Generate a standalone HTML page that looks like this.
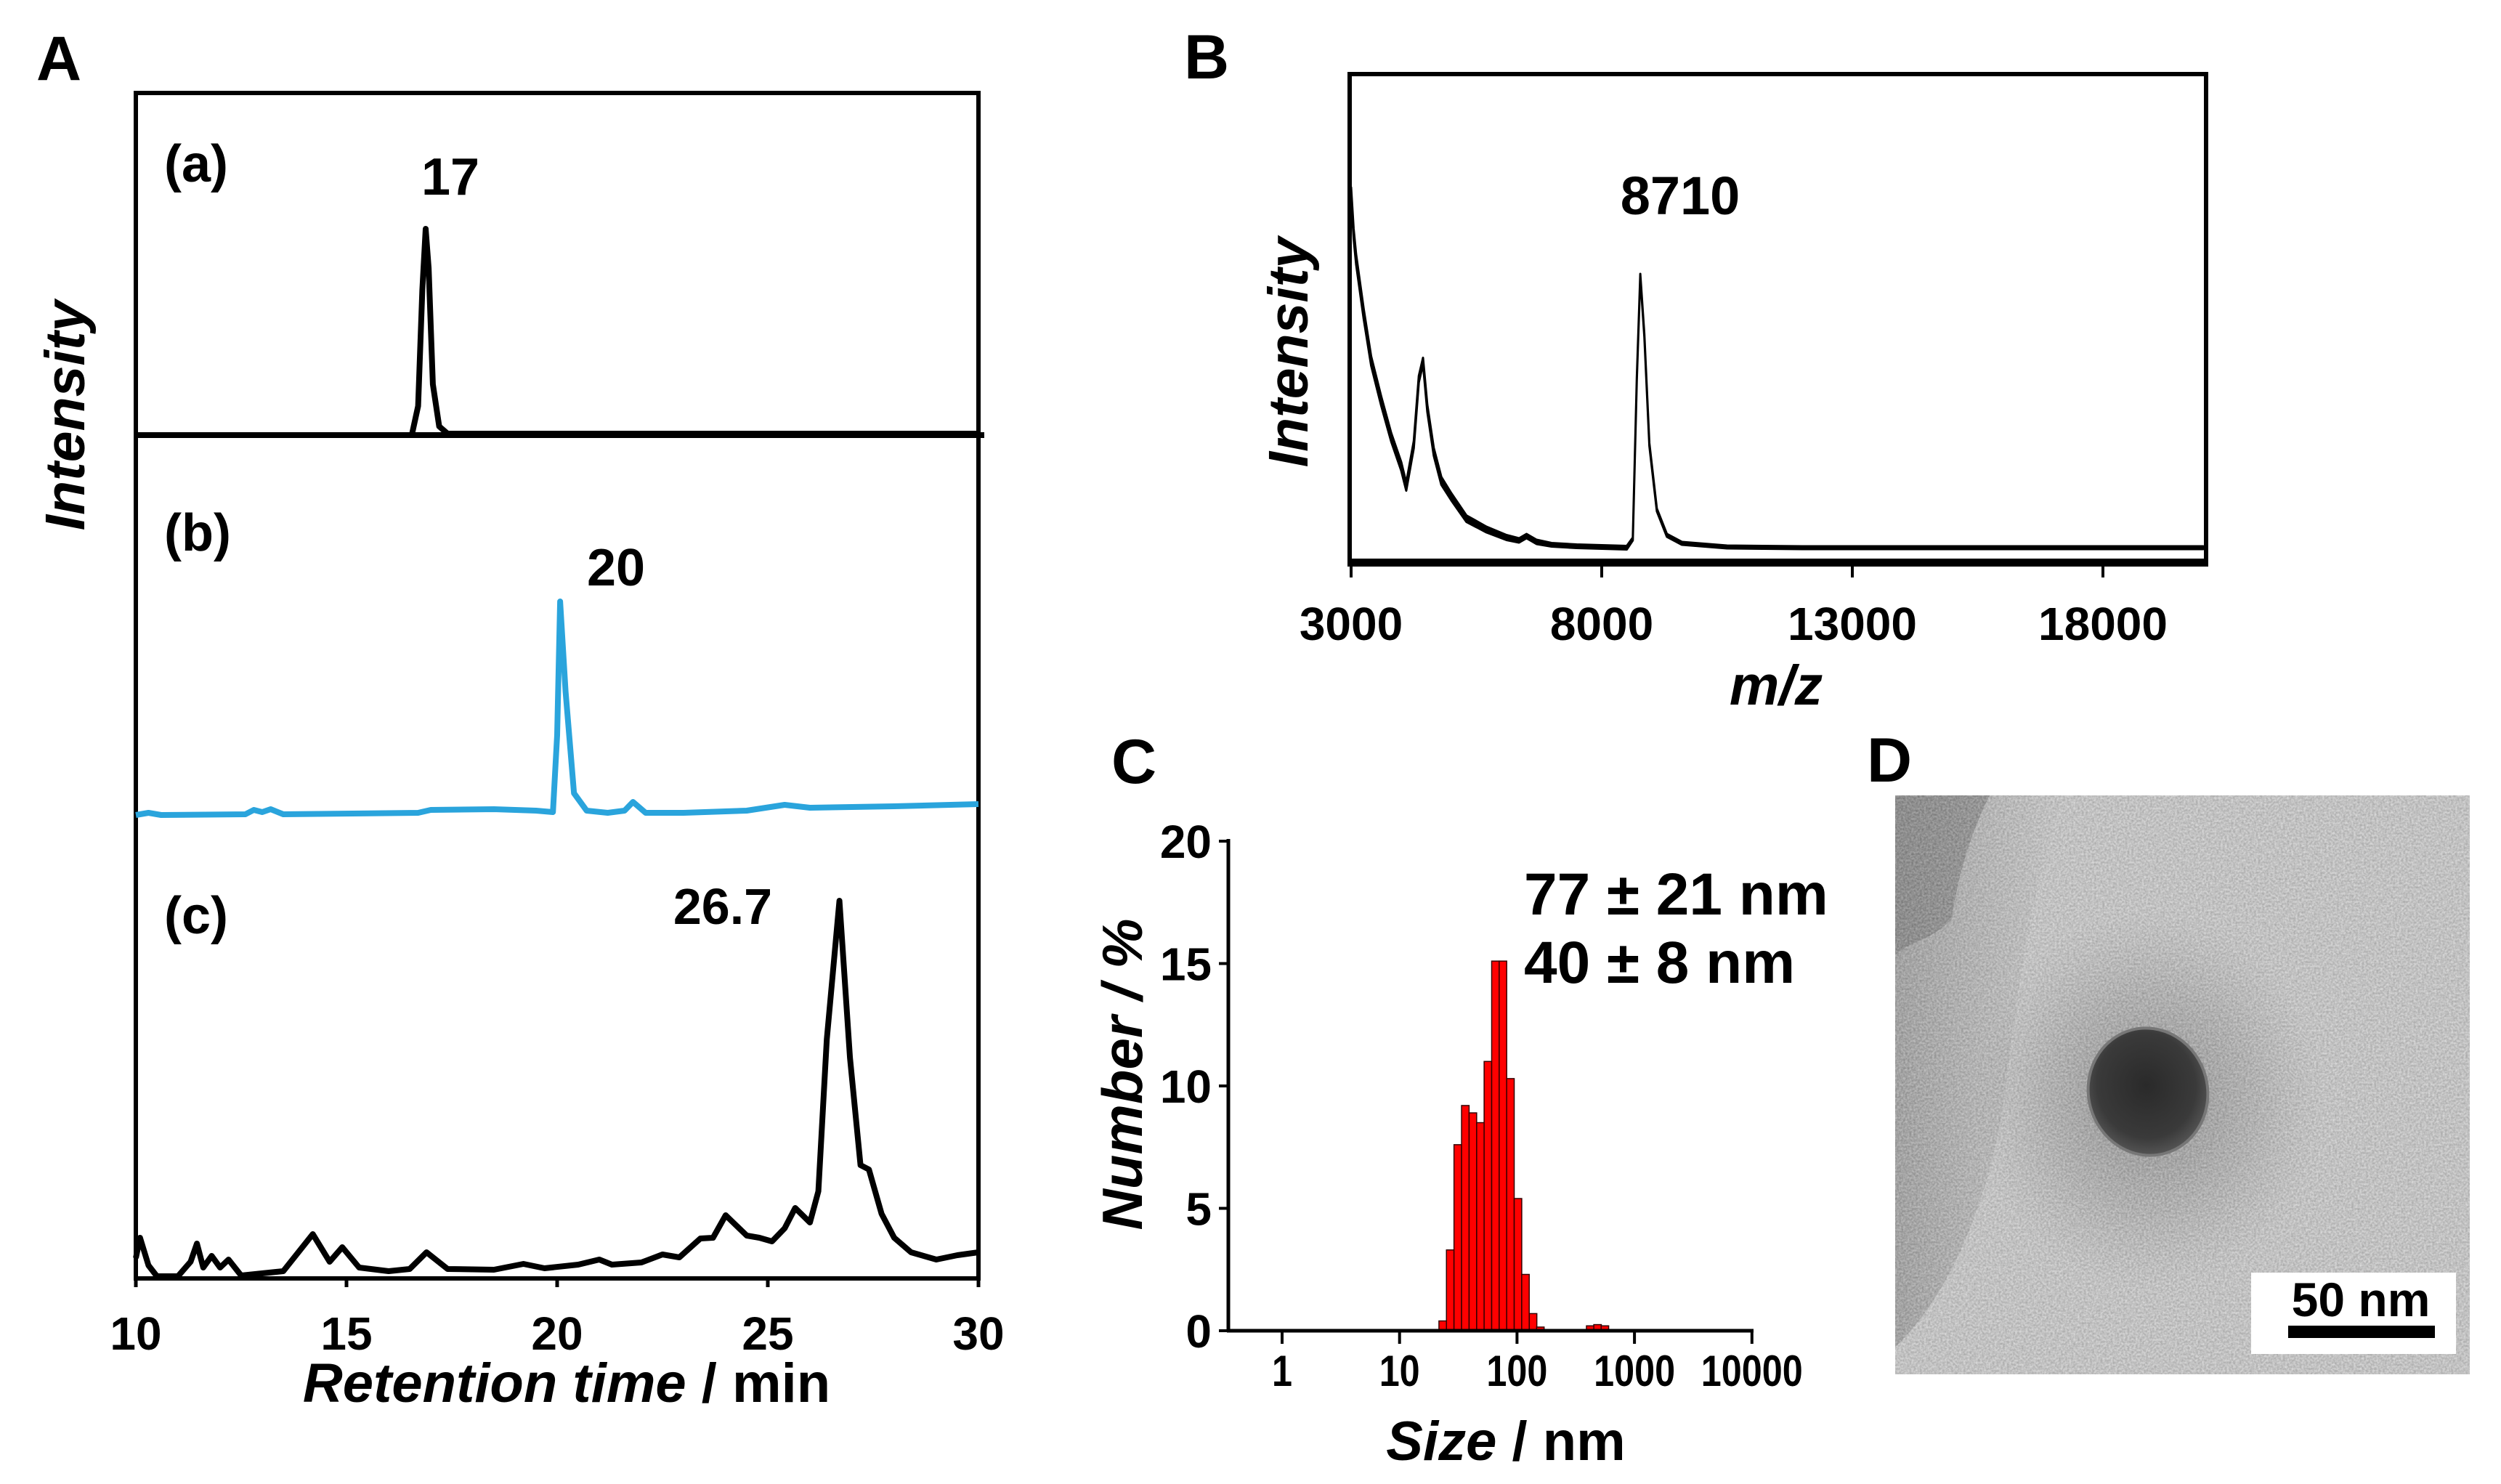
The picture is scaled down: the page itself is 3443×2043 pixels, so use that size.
<!DOCTYPE html>
<html><head><meta charset="utf-8"><style>
html,body{margin:0;padding:0;background:#fff}
svg{display:block}
text{font-family:"Liberation Sans",Arial,sans-serif;font-weight:bold;fill:#000}
</style></head><body>
<svg id="fig" width="3443" height="2043" viewBox="0 0 3443 2043" xmlns="http://www.w3.org/2000/svg">
<defs>
<filter id="noise" x="0" y="0" width="100%" height="100%" color-interpolation-filters="sRGB">
<feTurbulence type="fractalNoise" baseFrequency="0.35" numOctaves="3" seed="5" result="t"/>
<feColorMatrix in="t" type="matrix" values="1 0 0 0 0  1 0 0 0 0  1 0 0 0 0  0 0 0 0 1"/>
</filter>
<radialGradient id="halo" cx="0.5" cy="0.5" r="0.5">
<stop offset="0" stop-color="#7c7c7c" stop-opacity="0.7"/>
<stop offset="0.6" stop-color="#9a9a9a" stop-opacity="0.35"/>
<stop offset="1" stop-color="#b0b0b0" stop-opacity="0"/>
</radialGradient>
<radialGradient id="particle" cx="0.5" cy="0.45" r="0.55">
<stop offset="0" stop-color="#2a2a2a"/>
<stop offset="0.75" stop-color="#3a3a3a"/>
<stop offset="1" stop-color="#555"/>
</radialGradient>
<linearGradient id="darkband" x1="0" y1="0" x2="1" y2="0">
<stop offset="0" stop-color="#7a7a7a" stop-opacity="0.9"/>
<stop offset="1" stop-color="#8a8a8a" stop-opacity="0"/>
</linearGradient>
</defs>

<text x="50" y="110" font-size="86">A</text>
<text x="1630" y="108" font-size="86">B</text>
<text x="1530" y="1078" font-size="86">C</text>
<text x="2570" y="1076" font-size="86">D</text>

<g id="panelA">
<rect x="187" y="128" width="1160" height="1632" fill="none" stroke="#000" stroke-width="6"/>
<text x="0" y="0" font-size="77" font-style="italic" text-anchor="middle" transform="translate(116,572) rotate(-90)">Intensity</text>
<text x="226" y="250" font-size="72">(a)</text>
<text x="620" y="268" font-size="72" text-anchor="middle">17</text>
<text x="226" y="758" font-size="72">(b)</text>
<text x="848" y="806" font-size="72" text-anchor="middle">20</text>
<text x="226" y="1285" font-size="72">(c)</text>
<text x="995" y="1272" font-size="70" text-anchor="middle">26.7</text>
<text x="780" y="1930" font-size="76" text-anchor="middle"><tspan font-style="italic">Retention time</tspan> / min</text>
</g>

<g id="panelB">
<rect x="1858" y="102" width="1179" height="675" fill="none" stroke="#000" stroke-width="6"/>
<text x="0" y="0" font-size="77" font-style="italic" text-anchor="middle" transform="translate(1800,485) rotate(-90)">Intensity</text>
<text x="2313" y="295" font-size="74" text-anchor="middle">8710</text>
<text x="2445" y="970" font-size="77" font-style="italic" text-anchor="middle">m/z</text>
</g>

<g id="panelC">
<text x="0" y="0" font-size="78" font-style="italic" text-anchor="middle" transform="translate(1572,1479) rotate(-90)">Number / %</text>
<text x="2073" y="2010" font-size="76" text-anchor="middle"><tspan font-style="italic">Size</tspan> / nm</text>
<text x="2098" y="1259" font-size="82">77 ± 21 nm</text>
<text x="2098" y="1353" font-size="82">40 ± 8 nm</text>
</g>

<g id="panelD">
<svg x="2609" y="1095" width="791" height="797" viewBox="0 0 791 797">
<rect x="0" y="0" width="791" height="797" fill="#dcdcdc"/>
<path d="M0 0 L230 0 C190 120 170 250 150 420 C120 600 60 700 0 760 Z" fill="url(#darkband)" opacity="0.5"/>
<path d="M0 0 L130 0 C100 60 85 120 78 170 C50 200 20 200 0 220 Z" fill="#7c7c7c" opacity="0.55"/>
<ellipse cx="350" cy="420" rx="240" ry="260" fill="url(#halo)"/>
<rect x="0" y="0" width="791" height="797" filter="url(#noise)" opacity="0.28"/>
<ellipse cx="348" cy="408" rx="82" ry="88" transform="rotate(-15 348 408)" fill="url(#particle)" stroke="#777" stroke-width="4"/>
<rect x="490" y="657" width="282" height="112" fill="#fff"/>
<text x="641" y="717" font-size="66" text-anchor="middle">50 nm</text>
<rect x="541" y="730" width="202" height="17" fill="#000"/>
</svg>
</g>
</svg>

<script>
// ---------- Panel A data ----------
const aTimes = [10, 16.55, 16.7, 16.8, 16.88, 16.95, 17.05, 17.2, 17.4, 30];
const aIntensity = [0, 0, 40, 200, 284, 230, 70, 12, 2, 2];
const bTimes = [10, 10.3, 10.6, 12.6, 12.8, 13.0, 13.2, 13.5, 16.7, 17.0, 18.5, 19.5, 19.9, 20.0, 20.07, 20.2, 20.4, 20.7, 21.2, 21.6, 21.8, 22.1, 23, 24.5, 25.4, 26, 28, 30];
const bIntensity = [0, 3, 0, 1, 7, 4, 8, 1, 3, 7, 8, 6, 4, 110, 294, 170, 30, 6, 3, 6, 18, 3, 3, 6, 14, 10, 12, 15];
const cTimes = [10.0, 10.1, 10.3, 10.5, 11.0, 11.3, 11.45, 11.6, 11.8, 12.0, 12.2, 12.5, 13.5, 14.2, 14.6, 14.9, 15.3, 16.0, 16.5, 16.9, 17.4, 18.5, 19.2, 19.7, 20.5, 21.0, 21.3, 22.0, 22.5, 22.9, 23.4, 23.7, 24.0, 24.5, 24.8, 25.1, 25.4, 25.65, 26.0, 26.2, 26.4, 26.7, 26.95, 27.2, 27.4, 27.7, 28.0, 28.4, 29.0, 29.5, 30.0];
const cIntensity = [28, 56, 18, 3, 3, 23, 48, 15, 31, 15, 26, 4, 10, 61, 23, 43, 15, 10, 13, 36, 13, 12, 20, 14, 19, 26, 19, 22, 33, 29, 55, 56, 87, 59, 56, 51, 69, 97, 77, 120, 329, 520, 304, 156, 150, 89, 56, 36, 26, 32, 36];
const aTickValues = [10, 15, 20, 25, 30];
const aTickLabels = ["10", "15", "20", "25", "30"];

// ---------- Panel B data ----------
const msMz = [3000, 3050, 3100, 3250, 3400, 3600, 3800, 4000, 4100, 4250, 4350, 4435, 4520, 4650, 4800, 5000, 5300, 5700, 6100, 6350, 6500, 6700, 7000, 7500, 8000, 8500, 8620, 8700, 8770, 8850, 8950, 9100, 9300, 9600, 10500, 12000, 13000, 15000, 17000, 20000];
const msIntensity = [497, 440, 405, 330, 265, 210, 160, 120, 92, 150, 240, 265, 200, 140, 100, 78, 48, 33, 22, 18, 24, 16, 12, 10, 9, 8, 20, 240, 383, 300, 150, 60, 25, 14, 9, 8, 8, 8, 8, 8];
const msNoise = [14, 14, 14, 14, 13, 13, 12, 12, 11, 10, 9, 9, 10, 11, 11, 10, 9, 8, 7, 6, 6, 6, 5, 5, 5, 5, 4, 4, 4, 4, 4, 4, 4, 4, 4, 4, 4, 4, 4, 4];
const bTickValues = [3000, 8000, 13000, 18000];
const bTickLabels = ["3000", "8000", "13000", "18000"];

// ---------- Panel C data ----------
const sizeBins = [23.3, 27.0, 31.3, 36.3, 42.1, 48.8, 56.5, 65.5, 75.9, 87.9, 101.9, 118, 137, 158, 420, 485, 560];
const sizeCounts = [0.4, 3.3, 7.6, 9.2, 8.9, 8.5, 11.0, 15.1, 15.1, 10.3, 5.4, 2.3, 0.7, 0.15, 0.2, 0.25, 0.2];
const cXTickValues = [1, 10, 100, 1000, 10000];
const cXTickLabels = ["1", "10", "100", "1000", "10000"];
const cYTickValues = [0, 5, 10, 15, 20];
const cYTickLabels = ["0", "5", "10", "15", "20"];

const NS = "http://www.w3.org/2000/svg";
function mk(tag, attrs, parent) {
  const e = document.createElementNS(NS, tag);
  for (const k in attrs) e.setAttribute(k, attrs[k]);
  parent.appendChild(e);
  return e;
}

// ---------- Panel A ----------
const gA = document.getElementById("panelA");
const xA = t => 187 + (t - 10) * 58;
const yAa = v => 599 - v;
const yAb = v => 1122 - v;
const yAc = v => 1760 - v;
function pts(xs, ys, fx, fy) { return xs.map((x, i) => fx(x).toFixed(1) + "," + fy(ys[i]).toFixed(1)).join(" "); }

const divider = mk("line", {x1: 187, x2: 1355, y1: 599, y2: 599, stroke: "#000", "stroke-width": 8}, gA);



const trA = mk("polyline", {points: pts(aTimes, aIntensity, xA, yAa), fill: "none", stroke: "#000", "stroke-width": 8, "stroke-linejoin": "round"}, gA);



const trB = mk("polyline", {points: pts(bTimes, bIntensity, xA, yAb), fill: "none", stroke: "#2aa4dc", "stroke-width": 8, "stroke-linejoin": "round"}, gA);



const trC = mk("polyline", {points: pts(cTimes, cIntensity, xA, yAc), fill: "none", stroke: "#000", "stroke-width": 8, "stroke-linejoin": "round"}, gA);



aTickValues.forEach((v, i) => {
  const tk = mk("line", {x1: xA(v), x2: xA(v), y1: 1760, y2: 1772, stroke: "#000", "stroke-width": 5}, gA);
  
  
  const tl = mk("text", {x: xA(v), y: 1858, "font-size": 64, "text-anchor": "middle"}, gA);
  tl.textContent = aTickLabels[i];
  
  
});

// ---------- Panel B ----------
const gB = document.getElementById("panelB");
const xB = m => 1860 + (m - 3000) * 345 / 5000;
const yB = v => 762 - v;
const upper = msMz.map((m, i) => xB(m).toFixed(1) + "," + yB(msIntensity[i] + msNoise[i] / 2).toFixed(1));
const lower = msMz.map((m, i) => xB(m).toFixed(1) + "," + yB(msIntensity[i] - msNoise[i] / 2).toFixed(1)).reverse();
const band = mk("polygon", {points: upper.concat(lower).join(" "), fill: "#000", stroke: "#000", "stroke-width": 3, "stroke-linejoin": "round"}, gB);


const bBase = mk("line", {x1: 1858, x2: 3037, y1: 772, y2: 772, stroke: "#000", "stroke-width": 6}, gB);


bTickValues.forEach((v, i) => {
  const tk = mk("line", {x1: xB(v), x2: xB(v), y1: 777, y2: 795, stroke: "#000", "stroke-width": 4}, gB);
  
  
  const tl = mk("text", {x: xB(v), y: 881, "font-size": 64, "text-anchor": "middle"}, gB);
  tl.textContent = bTickLabels[i];
  
  
});

// ---------- Panel C ----------
const gC = document.getElementById("panelC");
const decade = 161.7;
const xC = s => 1765 + Math.log10(s) * decade;
const yC = v => 1832 - v * 674 / 20;
const binHalf = 0.032;
sizeBins.forEach((s, i) => {
  const l = s / Math.pow(10, binHalf), r = s * Math.pow(10, binHalf);
  const bar = mk("rect", {x: xC(l), y: yC(sizeCounts[i]), width: xC(r) - xC(l), height: yC(0) - yC(sizeCounts[i]), fill: "#ff0000", stroke: "#300", "stroke-width": 1.5}, gC);
  
  
});
const yAxC = mk("line", {x1: 1691, x2: 1691, y1: 1155, y2: 1834, stroke: "#000", "stroke-width": 5}, gC);


const xAxC = mk("line", {x1: 1689, x2: 2414, y1: 1832, y2: 1832, stroke: "#000", "stroke-width": 5}, gC);


cYTickValues.forEach((v, i) => {
  const tk = mk("line", {x1: 1678, x2: 1691, y1: yC(v), y2: yC(v), stroke: "#000", "stroke-width": 4}, gC);
  
  
  const tl = mk("text", {x: 1668, y: yC(v) + 23, "font-size": 64, "text-anchor": "end"}, gC);
  tl.textContent = cYTickLabels[i];
  
  
});
cXTickValues.forEach((v, i) => {
  const tk = mk("line", {x1: xC(v), x2: xC(v), y1: 1832, y2: 1850, stroke: "#000", "stroke-width": 4}, gC);
  
  
  const tl = mk("text", {x: xC(v), y: 1908, "font-size": 60, "text-anchor": "middle", textLength: 28 * cXTickLabels[i].length, lengthAdjust: "spacingAndGlyphs"}, gC);
  tl.textContent = cXTickLabels[i];
  
  
});
</script>
</body></html>
